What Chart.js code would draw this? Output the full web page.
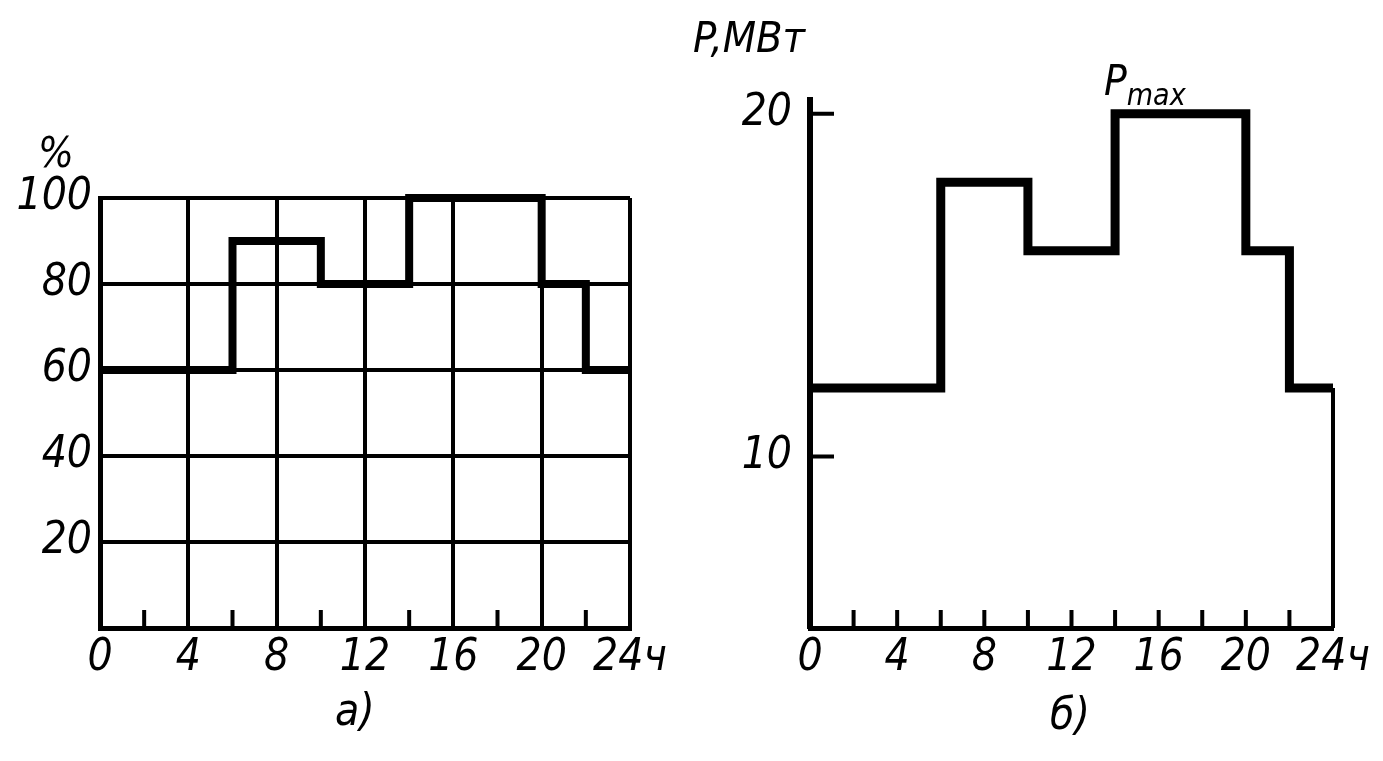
<!DOCTYPE html>
<html>
<head>
<meta charset="utf-8">
<script src="https://cdn.jsdelivr.net/npm/chart.js@4.4.0/dist/chart.umd.min.js"></script>
<style>
body { margin: 0; background: #fff; width: 1383px; height: 761px; overflow: hidden; position: relative;
       font-family: 'DejaVu Sans Condensed', 'DejaVu Sans', sans-serif; font-style: italic; color: #000; }
canvas { position: absolute; top: 0; }
#chartA { left: 0; }
#chartB { left: 690px; }
.lbl { position: absolute; white-space: nowrap; line-height: 1; }
</style>
</head>
<body>
<canvas id="chartA" width="690" height="761" style="width:690px;height:761px"></canvas>
<canvas id="chartB" width="693" height="761" style="width:693px;height:761px"></canvas>

<div class="lbl" style="left:38px;top:132px;font-size:42px">%</div>
<div class="lbl" style="left:335px;top:688px;font-size:44px">а)</div>
<div class="lbl" style="left:693px;top:16px;font-size:43px">P,МВт</div>
<div class="lbl" style="left:1104px;top:60px;font-size:42px">P<span style="font-size:30px;position:relative;top:10px">max</span></div>
<div class="lbl" style="left:1050px;top:692px;font-size:44px">б)</div>

<script>
// данные графиков
var hours = [0, 6, 10, 14, 20, 22, 24];
var loadPct = [60, 90, 80, 100, 80, 60, 60];     // а) нагрузка, %
var powerMW = [12, 18, 16, 20, 16, 12, 12];      // б) мощность, МВт
var hourTicks = [0, 2, 4, 6, 8, 10, 12, 14, 16, 18, 20, 22, 24];
var pctTicks = [0, 20, 40, 60, 80, 100];
var mwTicks = [10, 20];

var tickFont = { family: "'DejaVu Sans Condensed', 'DejaVu Sans', sans-serif", size: 44, style: 'italic' };

function points(xs, ys) {
    return xs.map(function(x, i) { return { x: x, y: ys[i] }; });
}

function hourLabel(v) {
    if (v % 4 !== 0) return '';
    return v === 24 ? '24ч' : String(v);
}

// короткие засечки внутрь поля графика
var innerTicks = {
    id: 'innerTicks',
    beforeDatasetsDraw: function(chart, args, opts) {
        var ctx = chart.ctx, a = chart.chartArea;
        var xs = chart.scales.x, ys = chart.scales.y;
        ctx.save();
        ctx.strokeStyle = '#000';
        ctx.lineWidth = 4;
        ctx.beginPath();
        (opts.xTicks || []).forEach(function(v) {
            var px = xs.getPixelForValue(v);
            ctx.moveTo(px, a.bottom);
            ctx.lineTo(px, a.bottom - opts.xLen);
        });
        (opts.yTicks || []).forEach(function(v) {
            var py = ys.getPixelForValue(v);
            ctx.moveTo(a.left, py);
            ctx.lineTo(a.left + opts.yLen, py);
        });
        ctx.stroke();
        ctx.restore();
    }
};

Chart.register(innerTicks);

// а) суточный график в процентах
var chartA = new Chart(document.getElementById('chartA'), {
    type: 'line',
    data: {
        datasets: [{
            data: points(hours, loadPct),
            stepped: 'before',
            borderColor: '#000',
            borderWidth: 8,
            pointRadius: 0,
            fill: false,
            clip: 10
        }]
    },
    options: {
        responsive: false,
        animation: false,
        events: [],
        layout: { padding: { top: 198, right: 60, bottom: 53, left: 0 } },
        plugins: {
            legend: { display: false },
            tooltip: { enabled: false },
            innerTicks: { xTicks: hourTicks.filter(function(v) { return v % 4 !== 0; }), xLen: 18 }
        },
        scales: {
            x: {
                type: 'linear', min: 0, max: 24,
                afterBuildTicks: function(s) { s.ticks = hourTicks.map(function(v) { return { value: v }; }); },
                afterFit: function(s) { s.height = 80; },
                ticks: { autoSkip: false, maxRotation: 0, padding: 4, color: '#000', font: tickFont, callback: hourLabel },
                grid: {
                    drawTicks: false,
                    color: function(c) { return c.tick && c.tick.value % 4 === 0 ? '#000' : 'rgba(0,0,0,0)'; },
                    lineWidth: function(c) { return c.tick && c.tick.value % 4 === 0 ? 4 : 0; }
                },
                border: { display: true, color: '#000', width: 5 }
            },
            y: {
                min: 0, max: 100,
                afterBuildTicks: function(s) { s.ticks = pctTicks.map(function(v) { return { value: v }; }); },
                afterFit: function(s) { s.width = 100; },
                ticks: { padding: 8, color: '#000', font: tickFont, callback: function(v) { return v === 0 ? '' : String(v); } },
                grid: { drawTicks: false, color: '#000', lineWidth: 4 },
                border: { display: true, color: '#000', width: 5 }
            }
        }
    }
});

// б) суточный график в МВт
var chartB = new Chart(document.getElementById('chartB'), {
    type: 'line',
    data: {
        datasets: [{
            data: points(hours, powerMW),
            stepped: 'before',
            borderColor: '#000',
            borderWidth: 9,
            pointRadius: 0,
            fill: false,
            clip: 10
        }, {
            data: [{ x: 24, y: powerMW[powerMW.length - 1] }, { x: 24, y: 5 }],
            borderColor: '#000',
            borderWidth: 4,
            pointRadius: 0,
            fill: false,
            clip: 10
        }]
    },
    options: {
        responsive: false,
        animation: false,
        events: [],
        layout: { padding: { top: 100, right: 50, bottom: 53, left: 0 } },
        plugins: {
            legend: { display: false },
            tooltip: { enabled: false },
            innerTicks: {
                xTicks: hourTicks.filter(function(v) { return v > 0 && v < 24; }), xLen: 18,
                yTicks: mwTicks, yLen: 24
            }
        },
        scales: {
            x: {
                type: 'linear', min: 0, max: 24,
                afterBuildTicks: function(s) { s.ticks = hourTicks.map(function(v) { return { value: v }; }); },
                afterFit: function(s) { s.height = 80; },
                ticks: { autoSkip: false, maxRotation: 0, padding: 4, color: '#000', font: tickFont, callback: hourLabel },
                grid: { display: false, drawTicks: false },
                border: { display: true, color: '#000', width: 5 }
            },
            y: {
                min: 5, max: 20.4,
                afterBuildTicks: function(s) { s.ticks = mwTicks.map(function(v) { return { value: v }; }); },
                afterFit: function(s) { s.width = 120; },
                ticks: { padding: 18, color: '#000', font: tickFont },
                grid: { display: false, drawTicks: false },
                border: { display: true, color: '#000', width: 6 }
            }
        }
    }
});
</script>
</body>
</html>
